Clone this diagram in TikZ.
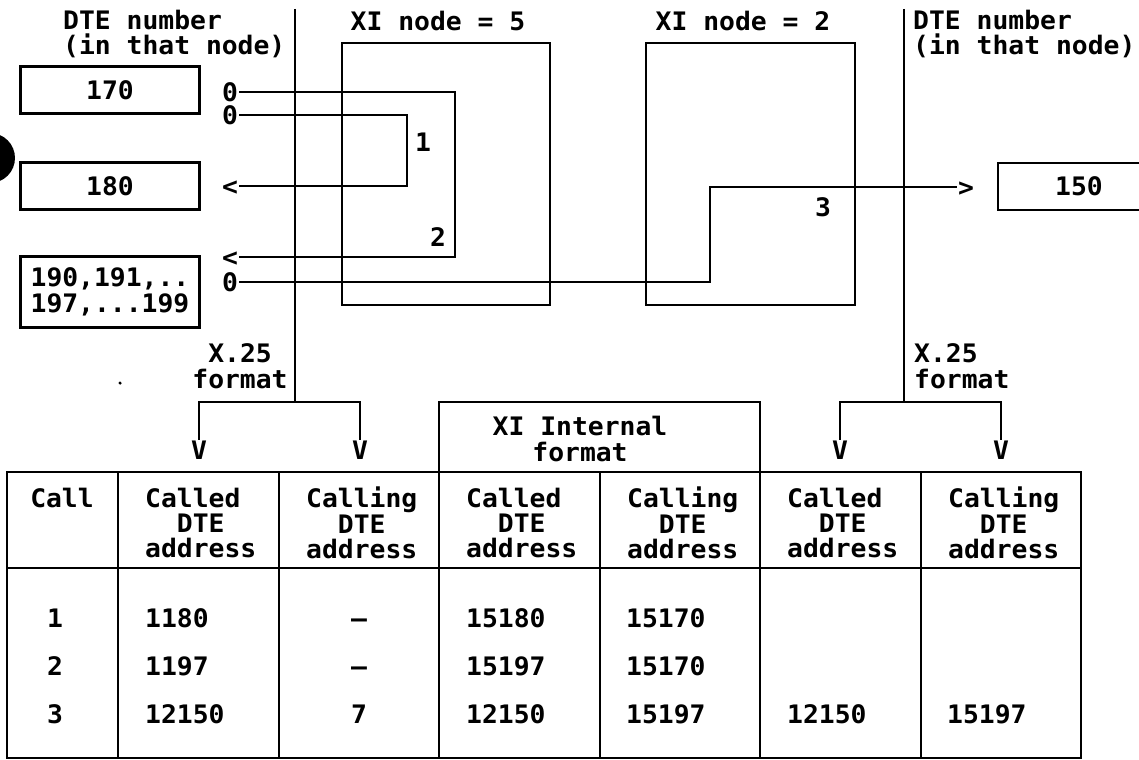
\documentclass[tikz,border=0pt]{standalone}
\usepackage{fontspec}
\setmonofont[FakeStretch=1.035]{DejaVu Sans Mono}

\begin{document}
\begin{tikzpicture}[x=0.02cm,y=-0.02cm,line width=1.3pt,
    every node/.style={inner sep=0pt},
    font=\ttfamily\bfseries\fontsize{14.5}{14.5}\selectfont,
    chr/.style={text height=10.6pt,text depth=0pt},
    dtebox/.style={draw,minimum width=3.58cm,minimum height=0.94cm},
    xibox/.style={draw,minimum height=5.24cm}]
    \useasboundingbox (0,0) rectangle (1139,760);
    \clip (0,0) rectangle (1139,760);
    \fill (-10,158) circle (0.5cm);
    \fill (120,383) circle (0.035cm);
    % top part
    \node[anchor=west,align=left] (dteL) at (62,34) {DTE number\\(in that node)};
    \node[anchor=west,align=left] (dteR) at (912,34) {DTE number\\(in that node)};
    \node (lab5) at (438,21) {XI node = 5};
    \node (lab2) at (743,21) {XI node = 2};
    \node[xibox,minimum width=4.16cm] (xi5) at (446,174) {};
    \node[xibox,minimum width=4.18cm] (xi2) at (750.5,174) {};
    \node[dtebox,chr] (d170) at (110,90) {170};
    \node[dtebox,chr] (d180) at (110,186) {180};
    \node[dtebox,minimum height=1.42cm,align=left] (d190) at (110,292) {190,191,..\\197,...199};
    \node[dtebox,chr,minimum width=3.24cm] (d150) at (1079,186.5) {150};
    \node[chr] (o1) at (230,92) {0};
    \node[chr] (o2) at (230,115) {0};
    \node[chr] (lt1) at (230,186) {<};
    \node[chr] (lt2) at (230,257) {<};
    \node[chr] (o3) at (230,282) {0};
    \node[chr] (gt3) at (966,187) {>};
    \coordinate (t1) at (407,150);
    \coordinate (t2) at (455,170);
    \coordinate (t3) at (710,230);
    \draw (o2.east) -| (t1) |- (lt1.east);
    \draw (o1.east) -| (t2) |- (lt2.east);
    \draw (o3.east) -| (t3) |- (gt3.west);
    \node[chr] (n1) at (423,142) {1};
    \node[chr] (n2) at (438,237) {2};
    \node[chr] (n3) at (823,207) {3};
    % format split
    \coordinate (topL) at (295,9);
    \coordinate (splitL) at (295,402);
    \coordinate (topR) at (904,9);
    \coordinate (splitR) at (904,402);
    \node[align=center] (x25L) at (240,366) {X.25\\format};
    \node[anchor=west,align=left] (x25R) at (913,366) {X.25\\format};
    \node[chr] (vL1) at (199,450) {V};
    \node[chr] (vL2) at (360,450) {V};
    \node[chr] (vR1) at (840,450) {V};
    \node[chr] (vR2) at (1001,450) {V};
    \draw (topL) -- (splitL);
    \draw (topR) -- (splitR);
    \draw (vL1.north) |- (splitL) -| (vL2.north);
    \draw (vR1.north) |- (splitR) -| (vR2.north);
    % table
    \draw (439,472) |- (760,402) -- (760,472);
    \node[align=center] (xiint) at (580,439) {XI Internal\\format};
    \draw (7,472) rectangle (1081,758);
    \draw (7,568) -- (1081,568);
    \foreach \x in {118,279,439,600,760,921}
      \draw (\x,472) -- (\x,758);
    \node[chr] (hcall) at (62,498) {Call};
    \foreach \n/\x/\w in {2/144/Called,3/305/Calling,4/465/Called,5/626/Calling,6/786/Called,7/947/Calling}
      \node[anchor=west,align=left] (h\n) at (\x,523) {\w\\\hphantom{XX}DTE\\address};
    \foreach \r/\y/\ca/\cb/\cc/\cd in {1/618/1180/—/15180/15170,2/666/1197/—/15197/15170,3/714/12150/7/12150/15197} {
      \node[chr] (r\r c1) at (55,\y) {\r};
      \node[chr,anchor=west] (r\r c2) at (144,\y) {\ca};
      \node[chr] (r\r c3) at (359,\y) {\cb};
      \node[chr,anchor=west] (r\r c4) at (465,\y) {\cc};
      \node[chr,anchor=west] (r\r c5) at (625,\y) {\cd};
    }
    \node[chr,anchor=west] (r3c6) at (786,714) {12150};
    \node[chr,anchor=west] (r3c7) at (946,714) {15197};
\end{tikzpicture}
\end{document}
